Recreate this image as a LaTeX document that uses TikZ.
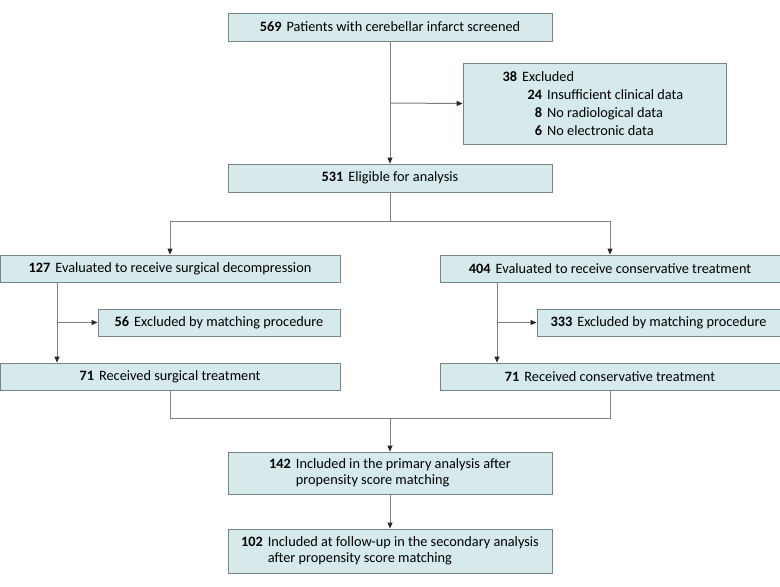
\documentclass[tikz,border=0pt]{standalone}
\usepackage{fontspec}
\setmainfont{Carlito}
\usetikzlibrary{arrows.meta}
\definecolor{boxfill}{RGB}{214,233,235}
\definecolor{boxline}{RGB}{120,132,134}
\definecolor{connc}{RGB}{128,128,128}
\definecolor{tipc}{RGB}{40,40,40}
\begin{document}
\begin{tikzpicture}[x=1pt,y=-1pt,
  txt/.style={font=\fontsize{14.3}{16}\selectfont},
  box/.style={txt,draw=boxline,fill=boxfill,line width=0.8pt,inner sep=0pt},
  conn/.style={draw=connc,line width=1pt},
  arr/.style={conn,-{Triangle[length=6pt,width=5pt,color=tipc]}}]
\useasboundingbox (0,0) rectangle (780,587);
% boxes
\node[box,minimum width=324pt,minimum height=28pt] (screen) at (390,27) {\textbf{569}\hspace{5pt}Patients with cerebellar infarct screened};
\node[box,minimum width=263pt,minimum height=81pt] (excl) at (594.5,103.5) {};
\node[txt,anchor=base west,inner sep=0pt] (ex1) at (497,81.5) {\makebox[20pt][r]{\textbf{38}}\hspace{5pt}Excluded};
\node[txt,anchor=base west,inner sep=0pt] (ex2) at (497,99.5) {\makebox[45pt][r]{\textbf{24}}\hspace{5pt}Insufficient clinical data};
\node[txt,anchor=base west,inner sep=0pt] (ex3) at (497,117.5) {\makebox[45pt][r]{\textbf{8}}\hspace{5pt}No radiological data};
\node[txt,anchor=base west,inner sep=0pt] (ex4) at (497,135.5) {\makebox[45pt][r]{\textbf{6}}\hspace{5pt}No electronic data};
\node[box,minimum width=324pt,minimum height=28pt] (elig) at (390,178) {\textbf{531}\hspace{5pt}Eligible for analysis};
\node[box,minimum width=340pt,minimum height=27pt] (surg) at (170,268.5) {\textbf{127}\hspace{5pt}Evaluated to receive surgical decompression};
\node[box,minimum width=340pt,minimum height=27pt] (cons) at (610,268.5) {\textbf{404}\hspace{5pt}Evaluated to receive conservative treatment};
\node[box,minimum width=242pt,minimum height=27pt] (exS) at (219,322.5) {\textbf{56}\hspace{5pt}Excluded by matching procedure};
\node[box,minimum width=243pt,minimum height=27pt] (exC) at (658.5,322.5) {\textbf{333}\hspace{5pt}Excluded by matching procedure};
\node[box,minimum width=340pt,minimum height=27pt] (recS) at (170,376.5) {\textbf{71}\hspace{5pt}Received surgical treatment};
\node[box,minimum width=340pt,minimum height=27pt] (recC) at (610,376.5) {\textbf{71}\hspace{5pt}Received conservative treatment};
\node[box,minimum width=324pt,minimum height=42pt] (prim) at (390,473)
  {\begin{tabular}{@{}r@{\hspace{5pt}}l@{}}\textbf{142} & Included in the primary analysis after\\ & propensity score matching\end{tabular}};
\node[box,minimum width=324pt,minimum height=44pt] (sec) at (390,551)
  {\begin{tabular}{@{}r@{\hspace{5pt}}l@{}}\textbf{102} & Included at follow-up in the secondary analysis\\ & after propensity score matching\end{tabular}};
% junction coordinates
\coordinate (j1) at (390,103);
\coordinate (j2) at (390,221);
\coordinate (jl) at (170,221);
\coordinate (jr) at (610,221);
\coordinate (sL) at (57,282);
\coordinate (sB) at (57,322.5);
\coordinate (cL) at (497,282);
\coordinate (cB) at (497,322.5);
\coordinate (bl) at (170,418);
\coordinate (br) at (610,418);
\coordinate (bm) at (390,418);
% connectors
\draw[arr] (screen.south) -- (elig.north);
\draw[arr] (j1) -- (excl.west);
\draw[conn] (elig.south) -- (j2);
\draw[conn] (jl) -- (jr);
\draw[arr] (jl) -- (surg.north -| jl);
\draw[arr] (jr) -- (cons.north -| jr);
\draw[arr] (sL) -- (recS.north -| sL);
\draw[arr] (sB) -- (exS.west);
\draw[arr] (cL) -- (recC.north -| cL);
\draw[arr] (cB) -- (exC.west);
\draw[conn] (recS.south -| bl) -- (bl) -- (br) -- (recC.south -| br);
\draw[arr] (bm) -- (prim.north);
\draw[arr] (prim.south) -- (sec.north);
\end{tikzpicture}
\end{document}
